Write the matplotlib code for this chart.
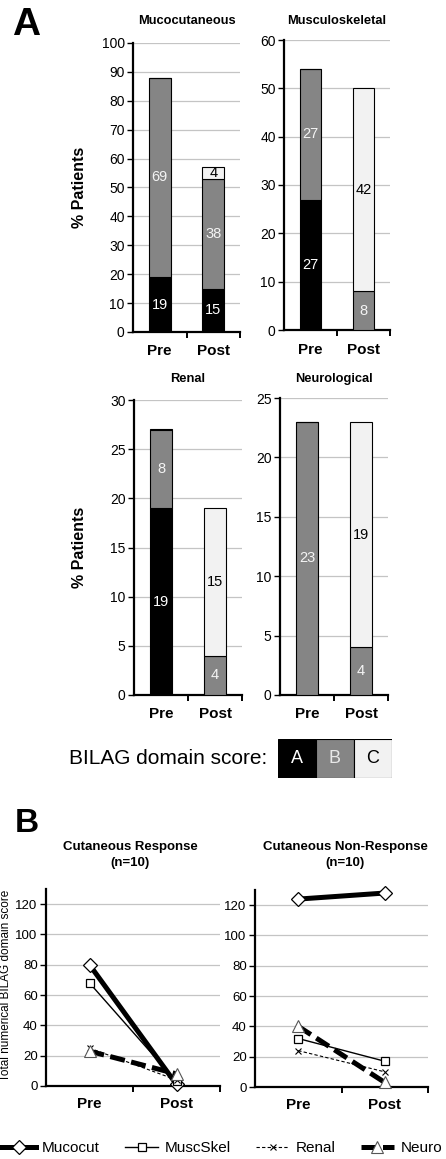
import numpy as np
import matplotlib
matplotlib.use("Agg")
import matplotlib.pyplot as plt
from matplotlib.lines import Line2D

plt.rcParams['font.family'] = ['Liberation Sans', 'DejaVu Sans']

# ---- panel A data (% patients per BILAG grade) ----
phases = ['Pre', 'Post']
domains = ['Mucocutaneous', 'Musculoskeletal', 'Renal', 'Neurological']
grade_a = {'Mucocutaneous': [19, 15], 'Musculoskeletal': [27, 0], 'Renal': [19, 0], 'Neurological': [0, 0]}
grade_b = {'Mucocutaneous': [69, 38], 'Musculoskeletal': [27, 8], 'Renal': [8, 4], 'Neurological': [23, 4]}
grade_c = {'Mucocutaneous': [0, 4], 'Musculoskeletal': [0, 42], 'Renal': [0, 15], 'Neurological': [0, 19]}
y_max = {'Mucocutaneous': 100, 'Musculoskeletal': 60, 'Renal': 30, 'Neurological': 25}
y_step = {'Mucocutaneous': 10, 'Musculoskeletal': 10, 'Renal': 5, 'Neurological': 5}

# ---- panel B data (total numerical BILAG domain score) ----
series = ['Mucocut', 'MuscSkel', 'Renal', 'Neuro']
resp_mucocut = [80, 1]
resp_muscskel = [68, 3]
resp_renal = [25, 4]
resp_neuro = [23, 8]
nonresp_mucocut = [124, 128]
nonresp_muscskel = [32, 17]
nonresp_renal = [24, 10]
nonresp_neuro = [40, 3]

W, H = 446, 1159
fig = plt.figure(figsize=(W / 100, H / 100), dpi=100)


def add_ax(l, t, r, b):
    return fig.add_axes([l / W, 1 - b / H, (r - l) / W, (b - t) / H])


def style_ax(ax, ymax, step, ylabsize=10, xpad=9):
    ax.set_xlim(-0.5, 1.5)
    ax.set_ylim(0, ymax)
    ax.set_yticks(np.arange(0, ymax + 0.1, step))
    for s in ['top', 'right']:
        ax.spines[s].set_visible(False)
    for s in ['left', 'bottom']:
        ax.spines[s].set_linewidth(1.6)
    ax.yaxis.grid(True, color='#c4c4c4', lw=0.9)
    ax.set_axisbelow(True)
    ax.set_xticks([0, 1])
    ax.set_xticklabels(phases, fontweight='bold', fontsize=11)
    ax.set_xticks([0.5, 1.5], minor=True)
    ax.tick_params(axis='x', which='major', length=0, pad=xpad)
    ax.tick_params(axis='x', which='minor', length=4, width=1.4, direction='out')
    ax.tick_params(axis='y', length=4, width=1.0, direction='out', labelsize=ylabsize, pad=2)


col_a, col_b, col_c = '#000000', '#858585', '#f2f2f2'
boxes = {
    'Mucocutaneous': (133, 43, 240, 332),
    'Musculoskeletal': (284, 40, 390, 330),
    'Renal': (134, 400, 242, 695),
    'Neurological': (280, 398, 388, 695),
}
title_y = {'Mucocutaneous': 21, 'Musculoskeletal': 21, 'Renal': 379, 'Neurological': 379}

x = np.arange(len(phases))
bw = 0.41
for d in domains:
    ax = add_ax(*boxes[d])
    style_ax(ax, y_max[d], y_step[d])
    a = np.array(grade_a[d])
    b = np.array(grade_b[d])
    c = np.array(grade_c[d])
    ax.bar(x, a, bw, color=col_a, edgecolor='black', lw=0.8, zorder=3)
    ax.bar(x, b, bw, bottom=a, color=col_b, edgecolor='black', lw=0.8, zorder=3)
    ax.bar(x, c, bw, bottom=a + b, color=col_c, edgecolor='black', lw=0.8, zorder=3)
    for i in range(len(phases)):
        if a[i] > 0:
            ax.text(x[i], a[i] / 2, str(a[i]), ha='center', va='center', color='white', fontsize=10.5, zorder=4)
        if b[i] > 0:
            ax.text(x[i], a[i] + b[i] / 2, str(b[i]), ha='center', va='center', color='#f4f4f4', fontsize=10.5, zorder=4)
        if c[i] > 0:
            ax.text(x[i], a[i] + b[i] + c[i] / 2, str(c[i]), ha='center', va='center', color='black', fontsize=10.5, zorder=4)
    l, t, r, bt = boxes[d]
    fig.text((l + r) / 2 / W, 1 - title_y[d] / H, d, ha='center', va='center', fontsize=9.3, fontweight='bold')

fig.text(80 / W, 1 - 187 / H, '% Patients', rotation=90, ha='center', va='center', fontsize=11.5, fontweight='bold')
fig.text(80 / W, 1 - 547 / H, '% Patients', rotation=90, ha='center', va='center', fontsize=11.5, fontweight='bold')
fig.text(26 / W, 1 - 25 / H, 'A', ha='center', va='center', fontsize=28, fontweight='bold')
fig.text(27 / W, 1 - 823 / H, 'B', ha='center', va='center', fontsize=24, fontweight='bold')

# BILAG key
fig.text(267 / W, 1 - 759 / H, 'BILAG domain score:', ha='right', va='center', fontsize=15)
kax = add_ax(278, 739, 392, 778)
grades = ['A', 'B', 'C']
kax.bar(np.arange(3), [1, 1, 1], 1.0, color=[col_a, col_b, col_c], edgecolor='black', lw=0.8)
for i, (g, tc) in enumerate(zip(grades, ['white', '#e8e8e8', 'black'])):
    kax.text(i, 0.5, g, ha='center', va='center', color=tc, fontsize=13)
kax.set_xlim(-0.5, 2.5)
kax.set_ylim(0, 1)
kax.axis('off')

# ---- panel B ----
line_styles = {
    'Mucocut': dict(color='black', lw=3.6, ls='-', marker='D', ms=7, mfc='white', mec='black', mew=0.9),
    'MuscSkel': dict(color='black', lw=1.0, ls='-', marker='s', ms=6, mfc='white', mec='black', mew=0.9),
    'Renal': dict(color='black', lw=0.8, ls=(0, (3, 2)), marker='x', ms=5, mfc='white', mec='black', mew=0.8),
    'Neuro': dict(color='black', lw=3.6, ls=(0, (3, 1.3)), marker='^', ms=9, mfc='white', mec='#555555', mew=0.8),
}
resp = [resp_mucocut, resp_muscskel, resp_renal, resp_neuro]
nonresp = [nonresp_mucocut, nonresp_muscskel, nonresp_renal, nonresp_neuro]

for (l, t, r, bt), data, title, cx in [((46, 889, 220, 1086), resp, 'Cutaneous Response\n(n=10)', 130),
                                      ((255, 890, 428, 1087), nonresp, 'Cutaneous Non-Response\n(n=10)', 345)]:
    ax = add_ax(l, t, r, bt)
    style_ax(ax, 130, 20, ylabsize=9.5, xpad=8)
    ax.set_yticks(np.arange(0, 121, 20))
    for name, vals in zip(series, data):
        ax.plot(x, vals, **line_styles[name], zorder=3, clip_on=False)
    fig.text(cx / W, 1 - 855 / H, title, ha='center', va='center', fontsize=9.5, fontweight='bold', linespacing=1.35)

fig.text(6 / W, 1 - 985 / H, 'Total numerical BILAG domain score', rotation=90, ha='center', va='center', fontsize=8.5)

handles = [Line2D([], [], **line_styles[n]) for n in series]
fig.legend(handles, series, loc='center', bbox_to_anchor=(222 / W, 1 - 1148 / H), ncol=4, frameon=False,
           fontsize=11, handlelength=2.2, handletextpad=0.4, columnspacing=1.65, borderpad=0)

fig.savefig('out.png', dpi=100)
